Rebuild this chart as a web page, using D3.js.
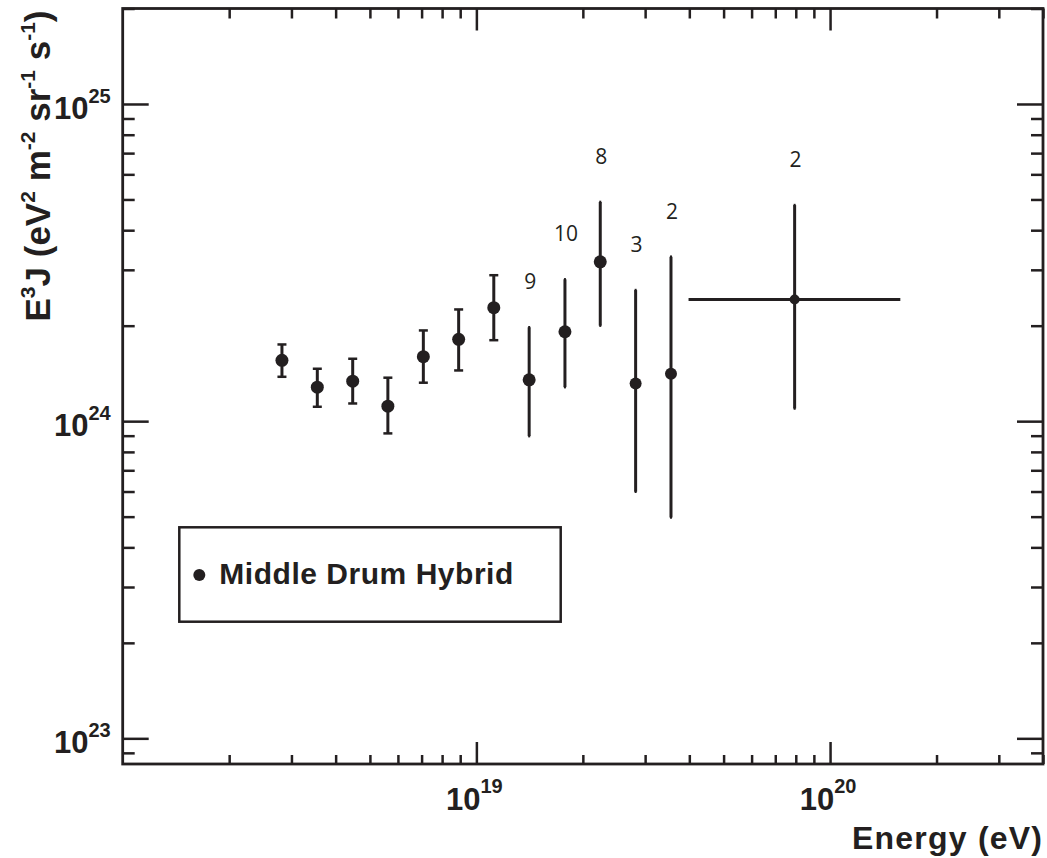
<!DOCTYPE html>
<html>
<head>
<meta charset="utf-8">
<script src="https://cdn.jsdelivr.net/npm/d3@7"></script>
<style>
  html, body { margin: 0; padding: 0; background: #fff; }
  svg { display: block; }
</style>
</head>
<body>
<svg id="chart" width="1047" height="858"></svg>
<script>
// ---- data ----
const energy    = [2.82e18, 3.55e18, 4.47e18, 5.62e18, 7.08e18, 8.91e18, 1.12e19, 1.41e19, 1.78e19, 2.24e19, 2.82e19, 3.55e19, 7.94e19];
const flux      = [1.555e24, 1.28e24, 1.337e24, 1.115e24, 1.597e24, 1.811e24, 2.28e24, 1.35e24, 1.914e24, 3.18e24, 1.315e24, 1.412e24, 2.42e24];
const fluxHigh  = [1.745e24, 1.463e24, 1.573e24, 1.371e24, 1.932e24, 2.25e24, 2.885e24, 1.977e24, 2.80e24, 4.91e24, 2.59e24, 3.30e24, 4.80e24];
const fluxLow   = [1.38e24, 1.11e24, 1.137e24, 0.915e24, 1.322e24, 1.445e24, 1.80e24, 0.897e24, 1.28e24, 2.0e24, 0.599e24, 0.497e24, 1.096e24];
const energyLow  = [null, null, null, null, null, null, null, null, null, null, null, null, 3.98e19];
const energyHigh = [null, null, null, null, null, null, null, null, null, null, null, null, 1.58e20];
const counts     = [null, null, null, null, null, null, null, 9, 10, 8, 3, 2, 2];

const xDomain = [1e18, 4e20];
const yDomain = [8.3e22, 2e25];
const xMajorTicks = [1e19, 1e20];
const xTickExps   = ["19", "20"];
const yMajorTicks = [1e23, 1e24, 1e25];
const yTickExps   = ["23", "24", "25"];
const legendLabel = "Middle Drum Hybrid";

// ---- layout ----
const L = 122.7, R = 1043, T = 8.5, B = 764;
const ink = "#231f20";
const svg = d3.select("#chart");

const x = d3.scaleLog().domain(xDomain).range([L, R]);
const y = d3.scaleLog().domain(yDomain).range([B, T]);

const isMajor = v => Math.abs(Math.log10(v) - Math.round(Math.log10(v))) < 1e-9;
const xMinor = x.ticks().filter(v => !isMajor(v));
const yMinor = y.ticks().filter(v => !isMajor(v));

function drawAxis(axis, tx, ty, values, size) {
  const g = svg.append("g").attr("transform", `translate(${tx},${ty})`)
    .call(axis.tickValues(values).tickSize(size).tickSizeOuter(0).tickFormat(""));
  g.select(".domain").remove();
  g.selectAll(".tick line").attr("stroke", ink).attr("stroke-width", 2.5);
  return g;
}
// bottom
drawAxis(d3.axisTop(x), 0, B, xMinor, 9);
drawAxis(d3.axisTop(x), 0, B, xMajorTicks, 22);
// top
drawAxis(d3.axisBottom(x), 0, T, xMinor, 10);
drawAxis(d3.axisBottom(x), 0, T, xMajorTicks, 22);
// left
drawAxis(d3.axisRight(y), L, 0, yMinor, 12);
drawAxis(d3.axisRight(y), L, 0, yMajorTicks, 26);
// right
drawAxis(d3.axisLeft(y), R, 0, yMinor, 12);
drawAxis(d3.axisLeft(y), R, 0, yMajorTicks, 26);

// frame
svg.append("rect").attr("x", L).attr("y", T).attr("width", R - L).attr("height", B - T)
  .attr("fill", "none").attr("stroke", ink).attr("stroke-width", 2.8);

const font = "'Liberation Sans', Arial, Helvetica, sans-serif";

// y tick labels
yMajorTicks.forEach((v, i) => {
  const t = svg.append("text").attr("x", L - 12).attr("y", y(v) + 15)
    .attr("text-anchor", "end").attr("font-family", font).attr("font-weight", "bold")
    .attr("font-size", 31).attr("fill", ink);
  t.append("tspan").text("10");
  t.append("tspan").attr("dy", -16).attr("font-size", 20).text(yTickExps[i]);
});
// x tick labels
xMajorTicks.forEach((v, i) => {
  const t = svg.append("text").attr("x", x(v) - 2).attr("y", 810)
    .attr("text-anchor", "middle").attr("font-family", font).attr("font-weight", "bold")
    .attr("font-size", 31).attr("fill", ink);
  t.append("tspan").text("10");
  t.append("tspan").attr("dy", -17).attr("font-size", 20).text(xTickExps[i]);
});

// axis titles
svg.append("text").attr("x", 1042).attr("y", 849).attr("text-anchor", "end")
  .attr("font-family", font).attr("font-weight", "bold").attr("font-size", 32)
  .attr("fill", ink).attr("textLength", 190).text("Energy (eV)");

const yt = svg.append("text").attr("transform", "translate(50,166) rotate(-90)")
  .attr("text-anchor", "middle").attr("font-family", font).attr("font-weight", "bold")
  .attr("font-size", 35).attr("fill", ink);
[["E", 0], ["3", 1], ["J (eV", 0], ["2", 1], [" m", 0], ["-2", 1], [" sr", 0], ["-1", 1], [" s", 0], ["-1", 1], [")", 0]]
  .forEach(([s, sup], k, arr) => {
    const prevSup = k > 0 ? arr[k - 1][1] : 0;
    const dy = sup && !prevSup ? -15 : (!sup && prevSup ? 15 : 0);
    yt.append("tspan").attr("dy", dy).attr("font-size", sup ? 21 : 35).text(s);
  });

// data
const idx = d3.range(energy.length);
const g = svg.append("g").attr("stroke", ink).attr("fill", ink);

// vertical error bars
g.selectAll("line.ev").data(idx).join("line").attr("class", "ev")
  .attr("x1", i => x(energy[i])).attr("x2", i => x(energy[i]))
  .attr("y1", i => y(fluxLow[i])).attr("y2", i => y(fluxHigh[i]))
  .attr("stroke-width", 3);
// caps
const capW = i => (counts[i] == null ? 4.5 : 1);
g.selectAll("line.capH").data(idx).join("line").attr("class", "capH")
  .attr("x1", i => x(energy[i]) - capW(i)).attr("x2", i => x(energy[i]) + capW(i))
  .attr("y1", i => y(fluxHigh[i])).attr("y2", i => y(fluxHigh[i])).attr("stroke-width", 2.5);
g.selectAll("line.capL").data(idx).join("line").attr("class", "capL")
  .attr("x1", i => x(energy[i]) - capW(i)).attr("x2", i => x(energy[i]) + capW(i))
  .attr("y1", i => y(fluxLow[i])).attr("y2", i => y(fluxLow[i])).attr("stroke-width", 2.5);
// horizontal error bars
const hIdx = idx.filter(i => energyLow[i] != null);
g.selectAll("line.eh").data(hIdx).join("line").attr("class", "eh")
  .attr("x1", i => x(energyLow[i])).attr("x2", i => x(energyHigh[i]))
  .attr("y1", i => y(flux[i])).attr("y2", i => y(flux[i])).attr("stroke-width", 3);
// markers
g.selectAll("circle").data(idx).join("circle")
  .attr("cx", i => x(energy[i])).attr("cy", i => y(flux[i]))
  .attr("r", i => (energyLow[i] != null ? 5 : (i >= 10 ? 6 : 6.5))).attr("stroke", "none");

// counts labels
svg.selectAll("text.cnt").data(idx.filter(i => counts[i] != null)).join("text").attr("class", "cnt")
  .attr("x", i => x(energy[i]) + 1).attr("y", i => y(fluxHigh[i]) - 38)
  .attr("text-anchor", "middle").attr("font-family", "'Open Sans', 'Noto Sans', sans-serif")
  .attr("font-size", 21).attr("fill", ink).text(i => counts[i]);

// legend
svg.append("rect").attr("x", 179.3).attr("y", 527.3).attr("width", 381.4).attr("height", 94.4)
  .attr("fill", "#fff").attr("stroke", ink).attr("stroke-width", 2.5);
svg.append("circle").attr("cx", 199.3).attr("cy", 575).attr("r", 6).attr("fill", ink);
svg.append("text").attr("x", 219.3).attr("y", 584).attr("font-family", font).attr("font-weight", "bold")
  .attr("font-size", 30).attr("fill", ink).attr("textLength", 294).text(legendLabel);
</script>
</body>
</html>
